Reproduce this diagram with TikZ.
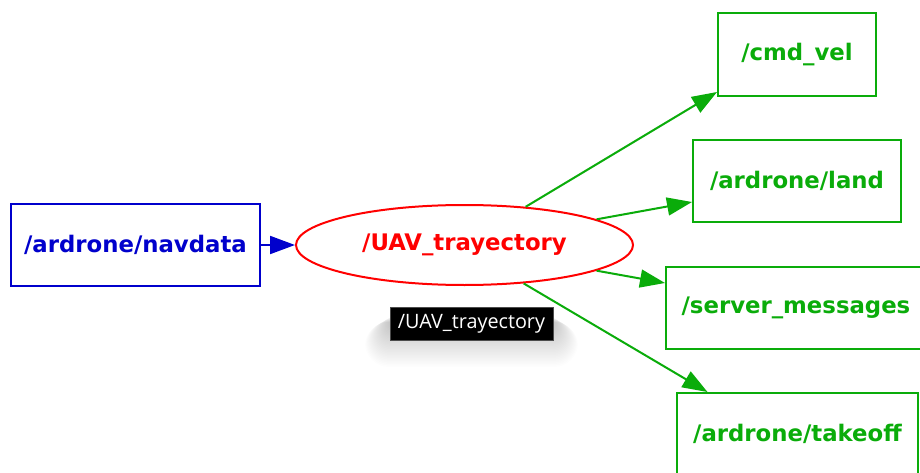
\documentclass[tikz,border=0pt]{standalone}
\usepackage{fontspec}
\setmainfont{DejaVu Sans}
\newfontfamily\tipfont{Open Sans}
\usetikzlibrary{shapes.geometric,arrows.meta}

\definecolor{topicblue}{RGB}{0,0,204}
\definecolor{nodered}{RGB}{255,0,0}
\definecolor{topicgreen}{RGB}{10,172,10}

\tikzset{
  lbl/.style={font=\fontsize{22.8}{27}\selectfont\bfseries},
  topicbox/.style={draw, rectangle, line width=2pt, inner sep=0pt, lbl, minimum height=82pt},
  nodeell/.style={draw, ellipse, line width=2pt, inner sep=0pt, lbl, minimum width=337pt, minimum height=80pt},
  link/.style={line width=2pt, -{Triangle[length=25pt,width=18pt]}},
  tipbox/.style={fill=black, draw=black!70, line width=0.6pt, text=white, inner sep=0pt,
    minimum width=163pt, minimum height=33pt, font=\tipfont\fontsize{19.8}{22}\selectfont}
}

\begin{document}
\begin{tikzpicture}[x=1pt,y=1pt]
  \useasboundingbox (0,0) rectangle (920,472);
  \clip (0,0) rectangle (920,472);
  \fill[white] (0,0) rectangle (920,472);

  % publisher topic and subscribing node
  \node[topicbox, draw=topicblue, text=topicblue, minimum width=249pt] (nav) at (135.5,227) {/ardrone/navdata};
  \node[nodeell, draw=nodered, text=nodered] (uav) at (464.5,227) {/UAV\_trayectory};

  % published topics
  \node[topicbox, draw=topicgreen, text=topicgreen, minimum width=158pt, minimum height=83pt] (cmd) at (797,417.5) {/cmd\_vel};
  \node[topicbox, draw=topicgreen, text=topicgreen, minimum width=208pt] (land) at (797,291) {/ardrone/land};
  \node[topicbox, draw=topicgreen, text=topicgreen, minimum width=260pt] (srv) at (796,164) {/server\_messages};
  \node[topicbox, draw=topicgreen, text=topicgreen, minimum width=241pt] (tko) at (797.5,38) {/ardrone/takeoff};

  % connectors
  \draw[link, topicblue] (nav.east) -- (uav.west);
  \draw[link, topicgreen] (uav.32) -- ([yshift=5pt]cmd.south west);
  \draw[link, topicgreen] (uav.11.5) -- ([yshift=-21pt]land.west);
  \draw[link, topicgreen] (uav.-11) -- ([yshift=25pt]srv.west);
  \draw[link, topicgreen] (uav.-33) -- ([xshift=-90pt]tko.north);

  % tooltip with a soft shadow underneath
  \foreach \d in {1,...,30} {
    \fill[black, opacity=0.009, rounded corners=\d*0.8pt]
      (392-\d*0.9,150-\d*1.5) rectangle (551+\d*0.9,156-\d*0.2);
  }
  \node[tipbox] (tip) at (471.5,148.5) {/UAV\_trayectory};
\end{tikzpicture}
\end{document}
